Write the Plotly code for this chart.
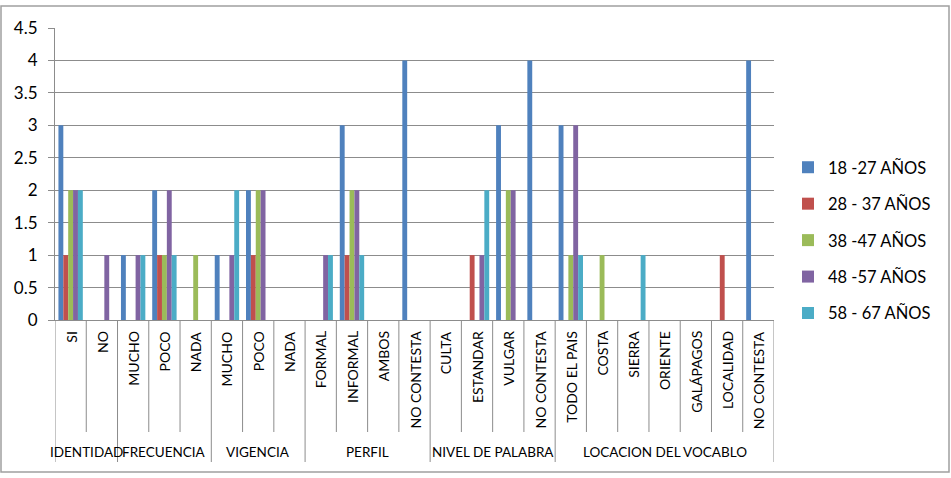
import plotly.graph_objects as go

categories = ["SI", "NO", "MUCHO", "POCO", "NADA", "MUCHO", "POCO", "NADA",
              "FORMAL", "INFORMAL", "AMBOS", "NO CONTESTA",
              "CULTA", "ESTANDAR", "VULGAR", "NO CONTESTA",
              "TODO EL PAIS", "COSTA", "SIERRA", "ORIENTE", "GALÁPAGOS", "LOCALIDAD", "NO CONTESTA"]
groups = ["IDENTIDAD", "FRECUENCIA", "VIGENCIA", "PERFIL", "NIVEL DE PALABRA", "LOCACION DEL VOCABLO"]
group_sizes = [2, 3, 3, 4, 4, 7]

series_names = ["18 -27 AÑOS", "28 - 37 AÑOS", "38 -47 AÑOS", "48 -57 AÑOS", "58 - 67 AÑOS"]
s1 = [3, 0, 1, 2, 0, 1, 2, 0, 0, 3, 0, 4, 0, 0, 3, 4, 3, 0, 0, 0, 0, 0, 4]
s2 = [1, 0, 0, 1, 0, 0, 1, 0, 0, 1, 0, 0, 0, 1, 0, 0, 0, 0, 0, 0, 0, 1, 0]
s3 = [2, 0, 0, 1, 1, 0, 2, 0, 0, 2, 0, 0, 0, 0, 2, 0, 1, 1, 0, 0, 0, 0, 0]
s4 = [2, 1, 1, 2, 0, 1, 2, 0, 1, 2, 0, 0, 0, 1, 2, 0, 3, 0, 0, 0, 0, 0, 0]
s5 = [2, 0, 1, 1, 0, 2, 0, 0, 1, 1, 0, 0, 0, 2, 0, 0, 1, 0, 1, 0, 0, 0, 0]
y_ticks = [0, 0.5, 1, 1.5, 2, 2.5, 3, 3.5, 4, 4.5]

colors = ["#4F81BD", "#C0504D", "#9BBB59", "#8064A2", "#4BACC6"]
FONT = "Lato"
GRID = "#8C8C8C"

xs = list(range(len(categories)))
fig = go.Figure()
for name, vals, col in zip(series_names, [s1, s2, s3, s4, s5], colors):
    fig.add_trace(go.Bar(x=xs, y=vals, name=name, marker=dict(color=col, line=dict(width=0)),
                         legendgroup=name))

# Layout geometry (pixels)
W, H = 951, 478
ml, mr, mt, mb = 55, 177, 28, 158
ph = H - mt - mb
pw = W - ml - mr

def py(pix):  # pixel row -> paper y
    return (H - mb - pix) / ph

def px(pix):
    return (pix - ml) / pw

shapes = []
annotations = []

# category tick labels
for i, c in enumerate(categories):
    annotations.append(dict(x=i, xref="x", y=0, yref="paper", yshift=-9, text=c,
                            textangle=-90, xanchor="center", yanchor="top", showarrow=False,
                            font=dict(family=FONT, size=14, color="#000")))

# separators and group labels
group_edges = [-0.5]
for s in group_sizes:
    group_edges.append(group_edges[-1] + s)
for b in range(len(categories) + 1):
    xb = b - 0.5
    is_group = xb in group_edges
    shapes.append(dict(type="line", xref="x", yref="paper", x0=xb, x1=xb, y0=0,
                       y1=py(462) if is_group else py(432), line=dict(color=GRID, width=1)))
for g, a, b in zip(groups, group_edges[:-1], group_edges[1:]):
    annotations.append(dict(x=(a + b) / 2, xref="x", y=py(452), yref="paper", text=g,
                            xanchor="center", yanchor="middle", showarrow=False,
                            font=dict(family=FONT, size=13.5, color="#000")))

# outer chart border
shapes.append(dict(type="rect", xref="paper", yref="paper", x0=px(1), x1=px(949), y0=py(472), y1=py(6),
                   line=dict(color="#A0A0A0", width=1.5), fillcolor="rgba(0,0,0,0)"))

fig.update_layout(
    width=W, height=H,
    margin=dict(l=ml, r=mr, t=mt, b=mb, autoexpand=False),
    paper_bgcolor="white", plot_bgcolor="white",
    barmode="group", bargap=0.22, bargroupgap=0,
    font=dict(family=FONT, size=15, color="#000"),
    xaxis=dict(range=[-0.5, len(categories) - 0.5], showticklabels=False, showgrid=False,
               zeroline=False, showline=True, linecolor=GRID, linewidth=1, ticks=""),
    yaxis=dict(range=[0, 4.5], tickvals=y_ticks, ticktext=[f"{v:g}" for v in y_ticks],
               showgrid=True, gridcolor=GRID, gridwidth=1, zeroline=False,
               showline=True, linecolor=GRID, linewidth=1, ticks="outside", ticklen=6,
               tickcolor=GRID, tickfont=dict(family=FONT, size=17), ticklabelstandoff=7),
    legend=dict(x=px(788), xanchor="left", y=py(150), yanchor="top", yref="paper",
                font=dict(family=FONT, size=16.5), tracegroupgap=12, bgcolor="rgba(0,0,0,0)"),
    shapes=shapes, annotations=annotations,
)

fig.write_html("out.html")
